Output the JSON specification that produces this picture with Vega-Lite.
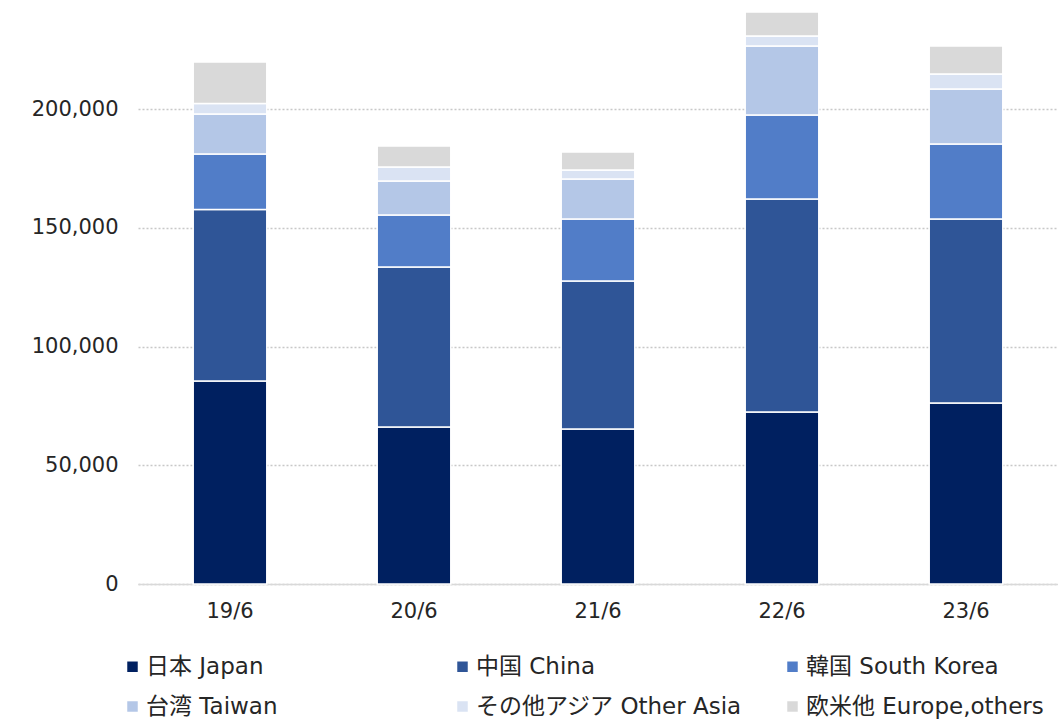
{
  "$schema": "https://vega.github.io/schema/vega-lite/v6.json",
  "width": 920,
  "height": 584,
  "autosize": {"type": "none"},
  "padding": {"left": 138, "top": 0, "right": 0, "bottom": 135},
  "background": "white",
  "config": {
    "font": "DejaVu Sans, Noto Sans CJK JP",
    "view": {"stroke": null}
  },
  "data": {
    "values": [
      {"year": "19/6", "region": "日本 Japan", "order": 1, "value": 85500},
      {"year": "19/6", "region": "中国 China", "order": 2, "value": 72200},
      {"year": "19/6", "region": "韓国 South Korea", "order": 3, "value": 23400},
      {"year": "19/6", "region": "台湾 Taiwan", "order": 4, "value": 16800},
      {"year": "19/6", "region": "その他アジア Other Asia", "order": 5, "value": 4400},
      {"year": "19/6", "region": "欧米他 Europe,others", "order": 6, "value": 17500},
      {"year": "20/6", "region": "日本 Japan", "order": 1, "value": 66100},
      {"year": "20/6", "region": "中国 China", "order": 2, "value": 67400},
      {"year": "20/6", "region": "韓国 South Korea", "order": 3, "value": 21900},
      {"year": "20/6", "region": "台湾 Taiwan", "order": 4, "value": 14300},
      {"year": "20/6", "region": "その他アジア Other Asia", "order": 5, "value": 5900},
      {"year": "20/6", "region": "欧米他 Europe,others", "order": 6, "value": 8800},
      {"year": "21/6", "region": "日本 Japan", "order": 1, "value": 65300},
      {"year": "21/6", "region": "中国 China", "order": 2, "value": 62300},
      {"year": "21/6", "region": "韓国 South Korea", "order": 3, "value": 26100},
      {"year": "21/6", "region": "台湾 Taiwan", "order": 4, "value": 16800},
      {"year": "21/6", "region": "その他アジア Other Asia", "order": 5, "value": 3800},
      {"year": "21/6", "region": "欧米他 Europe,others", "order": 6, "value": 7600},
      {"year": "22/6", "region": "日本 Japan", "order": 1, "value": 72400},
      {"year": "22/6", "region": "中国 China", "order": 2, "value": 89700},
      {"year": "22/6", "region": "韓国 South Korea", "order": 3, "value": 35400},
      {"year": "22/6", "region": "台湾 Taiwan", "order": 4, "value": 29000},
      {"year": "22/6", "region": "その他アジア Other Asia", "order": 5, "value": 4200},
      {"year": "22/6", "region": "欧米他 Europe,others", "order": 6, "value": 10100},
      {"year": "23/6", "region": "日本 Japan", "order": 1, "value": 76200},
      {"year": "23/6", "region": "中国 China", "order": 2, "value": 77500},
      {"year": "23/6", "region": "韓国 South Korea", "order": 3, "value": 31600},
      {"year": "23/6", "region": "台湾 Taiwan", "order": 4, "value": 23100},
      {"year": "23/6", "region": "その他アジア Other Asia", "order": 5, "value": 6300},
      {"year": "23/6", "region": "欧米他 Europe,others", "order": 6, "value": 11800}
    ]
  },
  "mark": {"type": "bar", "stroke": "white", "strokeWidth": 1.5},
  "encoding": {
    "x": {
      "field": "year",
      "type": "nominal",
      "sort": null,
      "title": null,
      "scale": {"paddingInner": 0.6, "paddingOuter": 0.3},
      "axis": {
        "labelAngle": 0,
        "labelFontSize": 21,
        "labelColor": "#262626",
        "labelPadding": 16,
        "ticks": false,
        "domainColor": "#D9D9D9",
        "domainWidth": 1.5
      }
    },
    "y": {
      "field": "value",
      "type": "quantitative",
      "stack": "zero",
      "title": null,
      "scale": {"domain": [0, 245900], "nice": false, "zero": true},
      "axis": {
        "values": [0, 50000, 100000, 150000, 200000],
        "format": ",.0f",
        "labelFontSize": 21,
        "labelColor": "#262626",
        "labelPadding": 20,
        "ticks": false,
        "domain": false,
        "grid": true,
        "gridColor": "#C8C8C8",
        "gridDash": [2, 2],
        "gridWidth": 1.5
      }
    },
    "order": {"field": "order", "type": "quantitative"},
    "color": {
      "field": "region",
      "type": "nominal",
      "title": null,
      "scale": {
        "domain": ["日本 Japan", "中国 China", "韓国 South Korea", "台湾 Taiwan", "その他アジア Other Asia", "欧米他 Europe,others"],
        "range": ["#002060", "#2F5597", "#517DC8", "#B4C7E7", "#DAE3F3", "#D9D9D9"]
      },
      "legend": {
        "orient": "none",
        "direction": "horizontal",
        "legendX": -17,
        "legendY": 655,
        "columns": 3,
        "gridAlign": "all",
        "columnPadding": 38,
        "rowPadding": 16,
        "symbolType": "square",
        "symbolSize": 110,
        "symbolStrokeWidth": 0,
        "symbolOffset": 0,
        "labelOffset": 2,
        "labelFontSize": 23,
        "labelColor": "#262626",
        "labelLimit": 400
      }
    }
  }
}
